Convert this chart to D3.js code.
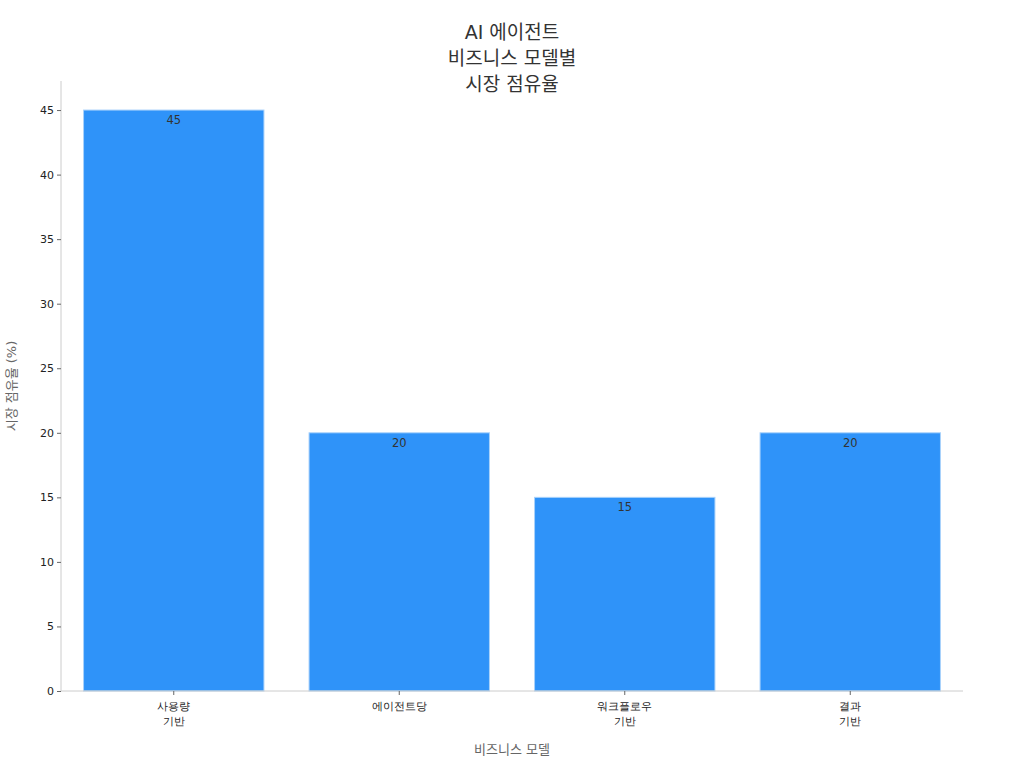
<!DOCTYPE html>
<html>
<head>
<meta charset="utf-8">
<script src="https://cdn.jsdelivr.net/npm/d3@7"></script>
<style>
  html, body { margin: 0; padding: 0; background: #fff; }
  svg { display: block; font-family: "DejaVu Sans", "Noto Sans CJK KR", sans-serif; }
</style>
</head>
<body>
<div id="chart"></div>
<script>
// AI 에이전트 비즈니스 모델별 시장 점유율
const categories = [['사용량', '기반'], ['에이전트당'], ['워크플로우', '기반'], ['결과', '기반']];
const shares = [45, 20, 15, 20];
const yTicks = [0, 5, 10, 15, 20, 25, 30, 35, 40, 45];
const titleLines = ['AI 에이전트', '비즈니스 모델별', '시장 점유율'];

const W = 1024, H = 768;
const M = { top: 81, right: 61, bottom: 77, left: 61 };
const iW = W - M.left - M.right;
const iH = H - M.top - M.bottom;

const svg = d3.select('#chart')
  .append('svg')
  .attr('width', W)
  .attr('height', H);

const g = svg.append('g').attr('transform', `translate(${M.left},${M.top})`);

const keys = categories.map(c => c.join(' '));

const x = d3.scaleBand()
  .domain(keys)
  .range([0, iW])
  .paddingInner(0.2)
  .paddingOuter(0.1);

const y = d3.scaleLinear()
  .domain([0, d3.max(shares) * 1.05])
  .range([iH, 0]);

// Bars
g.selectAll('rect.bar')
  .data(shares)
  .join('rect')
  .attr('class', 'bar')
  .attr('x', (d, i) => x(keys[i]))
  .attr('y', d => y(d))
  .attr('width', x.bandwidth())
  .attr('height', d => iH - y(d))
  .attr('fill', '#2f93f9')
  .attr('stroke', '#a9d2fb')
  .attr('stroke-width', 1);

// Value labels
g.selectAll('text.val')
  .data(shares)
  .join('text')
  .attr('class', 'val')
  .attr('x', (d, i) => x(keys[i]) + x.bandwidth() / 2)
  .attr('y', d => y(d) + 14)
  .attr('text-anchor', 'middle')
  .attr('font-size', 11.5)
  .attr('fill', '#333')
  .text(d => d);

// Y axis
g.append('g')
  .call(d3.axisLeft(y).tickValues(yTicks).tickSize(4).tickPadding(3))
  .call(ax => ax.select('.domain').attr('stroke', '#ccc').attr('d', `M0,${iH}V0`))
  .call(ax => ax.selectAll('.tick line').attr('stroke', '#666'))
  .call(ax => ax.selectAll('text').attr('font-size', 11).attr('fill', '#222')
    .attr('font-family', '"DejaVu Sans", sans-serif'));

// X axis
const xAx = g.append('g')
  .attr('transform', `translate(0,${iH})`)
  .call(d3.axisBottom(x).tickSize(4).tickPadding(4).tickFormat(''))
  .call(ax => ax.select('.domain').attr('stroke', '#ccc').attr('d', `M0,0H${iW}`))
  .call(ax => ax.selectAll('.tick line').attr('stroke', '#666'));

xAx.selectAll('.tick').each(function (k, i) {
  const t = d3.select(this).select('text')
    .attr('font-size', 11)
    .attr('fill', '#222')
    .attr('y', 0)
    .attr('dy', null);
  categories[i].forEach((line, j) => {
    t.append('tspan')
      .attr('x', 0)
      .attr('y', 19 + j * 15)
      .text(line);
  });
});

// Axis labels
g.append('text')
  .attr('x', iW / 2)
  .attr('y', iH + 63)
  .attr('text-anchor', 'middle')
  .attr('font-size', 13)
  .attr('fill', '#666')
  .text('비즈니스 모델');

g.append('text')
  .attr('transform', 'rotate(-90)')
  .attr('x', -iH / 2)
  .attr('y', -45)
  .attr('text-anchor', 'middle')
  .attr('font-size', 13)
  .attr('fill', '#666')
  .text('시장 점유율 (%)');

// Title
svg.append('text')
  .attr('x', W / 2)
  .attr('text-anchor', 'middle')
  .attr('font-size', 19)
  .attr('fill', '#333')
  .selectAll('tspan')
  .data(titleLines)
  .join('tspan')
  .attr('x', W / 2)
  .attr('y', (d, i) => 39 + i * 26)
  .text(d => d);
</script>
</body>
</html>
